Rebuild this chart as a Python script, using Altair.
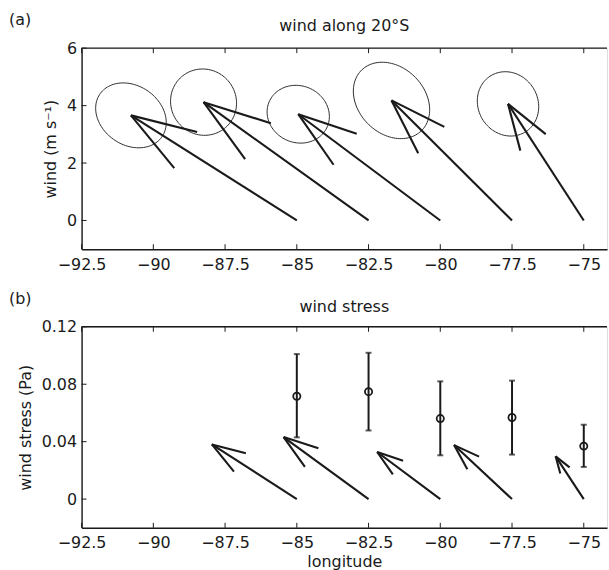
import numpy as np
import pandas as pd
import altair as alt

# ---------------------------------------------------------------- data
lon = [-85.0, -82.5, -80.0, -77.5, -75.0]
lon_ticks = [-92.5, -90.0, -87.5, -85.0, -82.5, -80.0, -77.5, -75.0]

# (a) mean wind: zonal part drawn in degrees of longitude, meridional in m/s
wind_u = [-5.78, -5.75, -4.95, -4.20, -2.64]
wind_v = [3.66, 4.12, 3.70, 4.18, 4.06]
# variability ellipses around the arrow tips: half extents and u-v correlation
ell_hx = [1.23, 1.15, 1.085, 1.33, 1.07]
ell_hy = [1.13, 1.155, 1.006, 1.33, 1.12]
ell_rho = [-0.22, -0.03, -0.08, -0.245, -0.09]
wind_ticks = [0, 2, 4, 6]

# (b) mean wind stress vectors and stress magnitude with its range
stress_u = [-2.96, -2.96, -2.20, -2.02, -0.98]
stress_v = [0.0381, 0.0432, 0.0328, 0.0376, 0.0298]
stress_mag = [0.0716, 0.0748, 0.0561, 0.0568, 0.0369]
stress_lo = [0.0430, 0.0478, 0.0305, 0.0310, 0.0224]
stress_hi = [0.1010, 0.1019, 0.0820, 0.0825, 0.0518]
stress_ticks = [0, 0.04, 0.08, 0.12]
STRESS_UNIT = 0.02  # Pa drawn as one degree of longitude

FONT = "DejaVu Sans"
INK = "#1a1a1a"
W, H = 528, 202
X_DOMAIN = [-92.5, -74.19]


def quiver(x0, u, v, yunit=1.0, alpha=0.33, beta=0.33):
    """Shaft and two barbs per vector, quiver-style heads in plot units."""
    rows = []
    for k, (x, du, dv) in enumerate(zip(x0, u, v)):
        dv = dv / yunit
        tx, ty = x + du, dv
        rows.append(dict(k=k, x=x, y=0.0, x2=tx, y2=ty))
        rows.append(dict(k=k, x=tx, y=ty,
                         x2=tx - alpha * (du + beta * dv),
                         y2=ty - alpha * (dv - beta * du)))
        rows.append(dict(k=k, x=tx, y=ty,
                         x2=tx - alpha * (du - beta * dv),
                         y2=ty - alpha * (dv + beta * du)))
    df = pd.DataFrame(rows)
    df["y"] = df["y"] * yunit
    df["y2"] = df["y2"] * yunit
    return df


def ellipses():
    t = np.linspace(0, 2 * np.pi, 121)
    parts = []
    for k in range(len(lon)):
        cx, cy = lon[k] + wind_u[k], wind_v[k]
        r = ell_rho[k]
        parts.append(pd.DataFrame({
            "k": k, "t": t,
            "x": cx + ell_hx[k] * np.cos(t),
            "y": cy + ell_hy[k] * (r * np.cos(t) + np.sqrt(1 - r * r) * np.sin(t)),
        }))
    return pd.concat(parts, ignore_index=True)


xscale = alt.Scale(domain=X_DOMAIN, nice=False, zero=False)


def x_axis(title):
    kw = dict(values=lon_ticks, format=".1~f", ticks=False, tickSize=0,
              labelPadding=7, labelFlush=False, labelOverlap=False, grid=False,
              domainColor=INK, domainWidth=1.4, labelFont=FONT, labelFontSize=16,
              labelColor=INK, titleFont=FONT, titleFontSize=16,
              titleFontWeight="normal", titleColor=INK, titlePadding=3)
    return alt.Axis(title=title, **kw)


def y_axis(values, fmt, title):
    return alt.Axis(values=values, format=fmt, ticks=False, tickSize=0,
                    labelPadding=5, labelFlush=False, labelOverlap=False, grid=False,
                    domainColor=INK, domainWidth=1.4, labelFont=FONT, labelFontSize=16,
                    labelColor=INK, title=title, titleFont=FONT, titleFontSize=16,
                    titleFontWeight="normal", titleColor=INK, titlePadding=8)


def frame_layers(xax, yenc, yticks):
    """Top border and inward tick marks on all drawn sides."""
    top = alt.Chart(pd.DataFrame({"v": [0]})).mark_rule(
        color=INK, strokeWidth=1.4).encode(
        x=alt.value(0), x2=alt.value(W), y=alt.value(0))
    xt = pd.DataFrame({"x": lon_ticks})
    tick_top = alt.Chart(xt).mark_rule(color=INK, strokeWidth=1).encode(
        x=alt.X("x:Q", scale=xscale, axis=xax), y=alt.value(0), y2=alt.value(5))
    tick_bot = alt.Chart(xt).mark_rule(color=INK, strokeWidth=1).encode(
        x=alt.X("x:Q", scale=xscale, axis=xax), y=alt.value(H), y2=alt.value(H - 5))
    yt = pd.DataFrame({"y": yticks})
    tick_left = alt.Chart(yt).mark_rule(color=INK, strokeWidth=1).encode(
        y=yenc("y"), x=alt.value(0), x2=alt.value(5))
    return [top, tick_top, tick_bot, tick_left]


def label(text, x, y, align):
    return alt.Chart(pd.DataFrame({"s": [text]})).mark_text(
        align=align, baseline="alphabetic", font=FONT, fontSize=16, color=INK
    ).encode(x=alt.value(x), y=alt.value(y), text="s:N")


# ---------------------------------------------------------------- panel (a)
xax_a = x_axis(None)
ysc_a = alt.Scale(domain=[-1, 6], nice=False, zero=False)
yax_a = y_axis(wind_ticks, "d", "wind (m s\u207b\u00b9)")


def ya(field):
    return alt.Y(f"{field}:Q", scale=ysc_a, axis=yax_a)


arrows_a = alt.Chart(quiver(lon, wind_u, wind_v)).mark_rule(
    color=INK, strokeWidth=2.1).encode(
    x=alt.X("x:Q", scale=xscale, axis=xax_a), x2="x2:Q", y=ya("y"), y2="y2:Q")

ell = alt.Chart(ellipses()).mark_line(color="#2b2b2b", strokeWidth=1).encode(
    x=alt.X("x:Q", scale=xscale, axis=xax_a), y=ya("y"), detail="k:N", order="t:Q")

panel_a = alt.layer(
    ell, arrows_a, *frame_layers(xax_a, ya, wind_ticks),
    label("(a)", -73, -23, "left"),
    label("wind along 20°S", W / 2, -17, "center"),
).properties(width=W, height=H)

# ---------------------------------------------------------------- panel (b)
xax_b = x_axis("longitude")
ysc_b = alt.Scale(domain=[-0.02, 0.12], nice=False, zero=False)
yax_b = y_axis(stress_ticks, ".2~f", "wind stress (Pa)")


def yb(field):
    return alt.Y(f"{field}:Q", scale=ysc_b, axis=yax_b)


arrows_b = alt.Chart(quiver(lon, stress_u, stress_v, yunit=STRESS_UNIT)).mark_rule(
    color=INK, strokeWidth=2.1).encode(
    x=alt.X("x:Q", scale=xscale, axis=xax_b), x2="x2:Q", y=yb("y"), y2="y2:Q")

bars = pd.DataFrame({"x": lon, "mag": stress_mag, "lo": stress_lo, "hi": stress_hi})
err = alt.Chart(bars).mark_rule(color=INK, strokeWidth=2).encode(
    x=alt.X("x:Q", scale=xscale, axis=xax_b), y=yb("lo"), y2="hi:Q")
cap_lo = alt.Chart(bars).mark_tick(
    color=INK, orient="horizontal", size=6, thickness=2).encode(
    x=alt.X("x:Q", scale=xscale, axis=xax_b), y=yb("lo"))
cap_hi = alt.Chart(bars).mark_tick(
    color=INK, orient="horizontal", size=6, thickness=2).encode(
    x=alt.X("x:Q", scale=xscale, axis=xax_b), y=yb("hi"))
dots = alt.Chart(bars).mark_point(
    shape="circle", filled=False, color=INK, size=52, strokeWidth=1.8,
    opacity=1).encode(
    x=alt.X("x:Q", scale=xscale, axis=xax_b), y=yb("mag"))

panel_b = alt.layer(
    arrows_b, err, cap_lo, cap_hi, dots, *frame_layers(xax_b, yb, stress_ticks),
    label("(b)", -73, -23, "left"),
    label("wind stress", W / 2, -14.5, "center"),
).properties(width=W, height=H)

chart = alt.vconcat(panel_a, panel_b, spacing=78, bounds="flush").properties(
    padding={"left": 8, "top": 10, "right": 0, "bottom": 0},
).configure_view(stroke=None).configure(background="white")

chart.save("out.html", embed_options={"renderer": "svg", "actions": False})
